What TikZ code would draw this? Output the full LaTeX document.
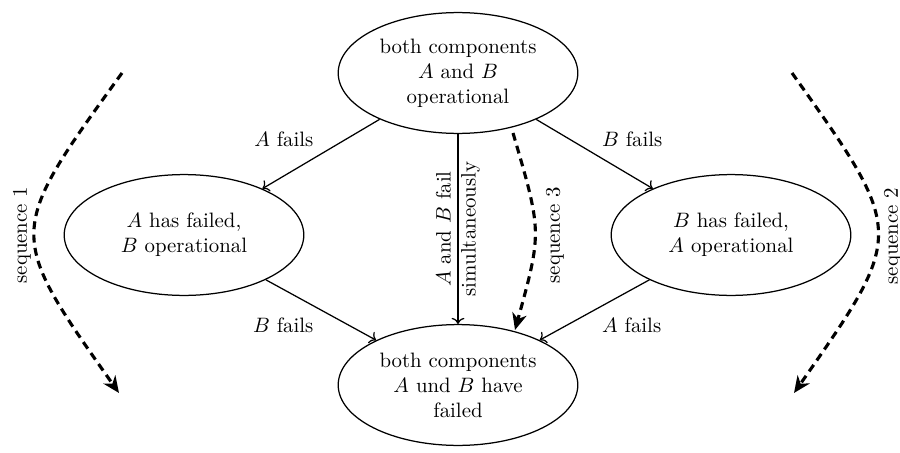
\documentclass[tikz,border=0pt]{standalone}
\usepackage{tikz}
\usetikzlibrary{shapes}
\usetikzlibrary{arrows,arrows.meta,positioning}
\begin{document}
\begin{tikzpicture}[x=0.48pt, y=0.48pt, semithick,
    statenode/.style={ellipse, draw, align=center, minimum width=115pt, minimum height=58pt, inner sep=0pt},
    seqarrow/.style={-{Stealth[length=8pt, width=7pt, inset=2.5pt]}, line width=1.5pt, dash pattern=on 3.8pt off 2.6pt},
    seqlabel/.style={rotate=90}]
      \useasboundingbox (0, 0) rectangle (900, 452);
      % states
      \node [statenode] (both)  at (458, 379) {both components\\ $A$ and $B$\\ operational};
      \node [statenode] (afail) at (184, 217) {$A$ has failed,\\ $B$ operational};
      \node [statenode] (bfail) at (731, 217) {$B$ has failed,\\ $A$ operational};
      \node [statenode] (none)  at (458, 67)  {both components\\ $A$ und $B$ have\\ failed};
      % transitions
      \draw [->] (both) -- (afail) node [midway, above left] {$A$ fails};
      \draw [->] (both) -- (bfail) node [midway, above right] {$B$ fails};
      \draw [->] (afail) -- (none) node [midway, below left] {$B$ fails};
      \draw [->] (bfail) -- (none) node [midway, below right] {$A$ fails};
      \draw [->] (both) -- (none) node [midway, rotate=90, align=center] {$A$ and $B$ fail\\ simultaneously};
      % sequences
      \coordinate (s1start) at (122, 379);
      \coordinate (s1end)   at (119, 59);
      \coordinate (s2start) at (792, 379);
      \coordinate (s2end)   at (794, 59);
      \coordinate (s3start) at (513, 319);
      \coordinate (s3end)   at (515, 122);
      \draw [seqarrow] (s1start) .. controls (6, 219) .. (s1end);
      \draw [seqarrow] (s2start) .. controls (906, 219) .. (s2end);
      \draw [seqarrow] (s3start) .. controls (542, 220) .. (s3end);
      \node [seqlabel] (seq1) at (22, 217)  {sequence 1};
      \node [seqlabel] (seq2) at (893, 216) {sequence 2};
      \node [seqlabel] (seq3) at (555, 217) {sequence 3};
\end{tikzpicture}
\end{document}
